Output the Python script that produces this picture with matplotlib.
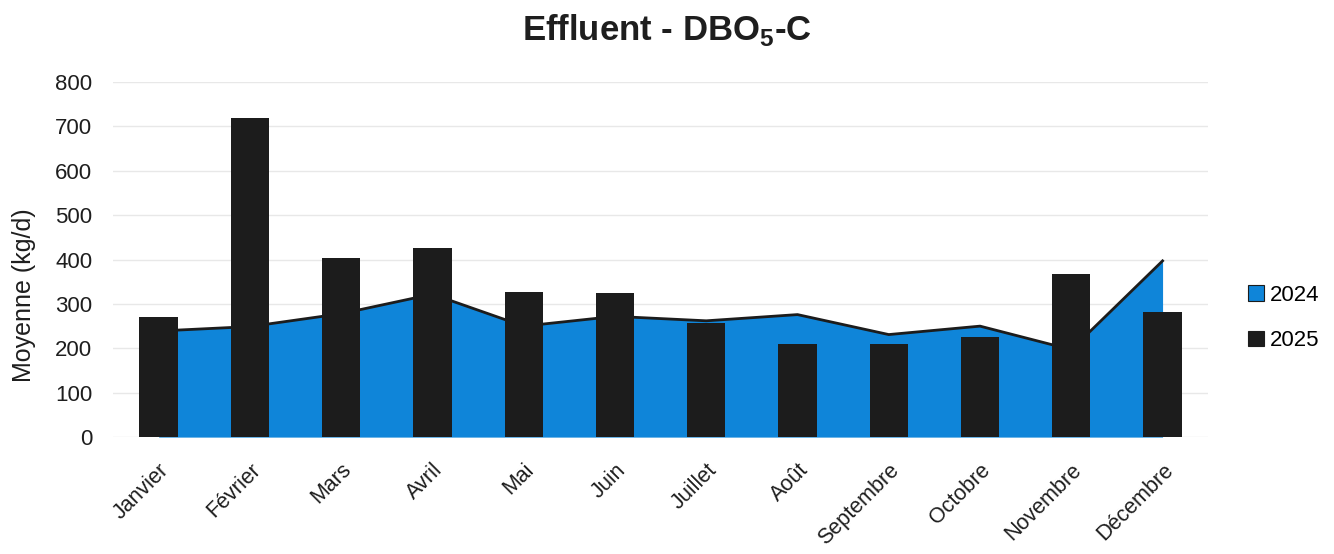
import matplotlib.pyplot as plt
from matplotlib.patches import Patch

plt.rcParams['font.family'] = ['Liberation Sans', 'DejaVu Sans']
plt.rcParams['mathtext.fontset'] = 'custom'
plt.rcParams['mathtext.bf'] = 'Liberation Sans:bold'
plt.rcParams['mathtext.rm'] = 'Liberation Sans'

# Données
mois = ["Janvier", "Février", "Mars", "Avril", "Mai", "Juin", "Juillet",
        "Août", "Septembre", "Octobre", "Novembre", "Décembre"]
valeurs_2024 = [239, 249, 278, 322, 250, 272, 262, 276, 231, 250, 197, 397]
valeurs_2025 = [271, 718, 404, 425, 327, 324, 257, 210, 210, 226, 367, 281]

bleu = "#0F85D9"
noir = "#1C1C1C"
texte = "#1E1E1E"

fig = plt.figure(figsize=(13.34, 5.54), dpi=100)
ax = fig.add_axes([0.0847, 0.211, 0.821, 0.641])

x = list(range(len(mois)))

# Aire 2024
ax.fill_between(x, 0, valeurs_2024, color=bleu, linewidth=0, zorder=2)
ax.plot(x, valeurs_2024, color=noir, linewidth=2, zorder=3)

# Barres 2025
ax.bar(x, valeurs_2025, width=0.42, color=noir, zorder=4)

ax.set_xlim(-0.5, len(mois) - 0.5)
ax.set_ylim(0, 800)
ax.set_yticks(range(0, 801, 100))
ax.yaxis.grid(True, color="#E8E8E8", linewidth=1, zorder=0)
ax.set_axisbelow(True)
for s in ax.spines.values():
    s.set_visible(False)
ax.tick_params(axis="both", length=0, labelsize=16, colors=texte)
ax.tick_params(axis="y", pad=15)
ax.tick_params(axis="x", labelsize=15.5, pad=16)
ax.set_xticks(x)
ax.set_xticklabels(mois, rotation=45, ha="right", rotation_mode="anchor")
ax.set_ylabel("Moyenne (kg/d)", fontsize=18, color=texte)
ax.yaxis.set_label_coords(-0.070, 0.40)

fig.text(0.5, 0.945, r"Effluent - DBO$_\mathbf{5}$-C", ha="center", va="center",
         fontsize=25, fontweight="bold", color=texte)

# Légende
poignees = [Patch(facecolor=bleu, edgecolor=noir, linewidth=0.8),
            Patch(facecolor=noir, edgecolor=noir, linewidth=0.8)]
fig.legend(poignees, ["2024", "2025"], loc="center left",
           bbox_to_anchor=(1228 / 1334, 1 - 318 / 554), frameon=False,
           fontsize=16, handlelength=0.7, handleheight=0.7, handletextpad=0.3,
           labelspacing=1.1)

fig.savefig("out.png", dpi=100)
